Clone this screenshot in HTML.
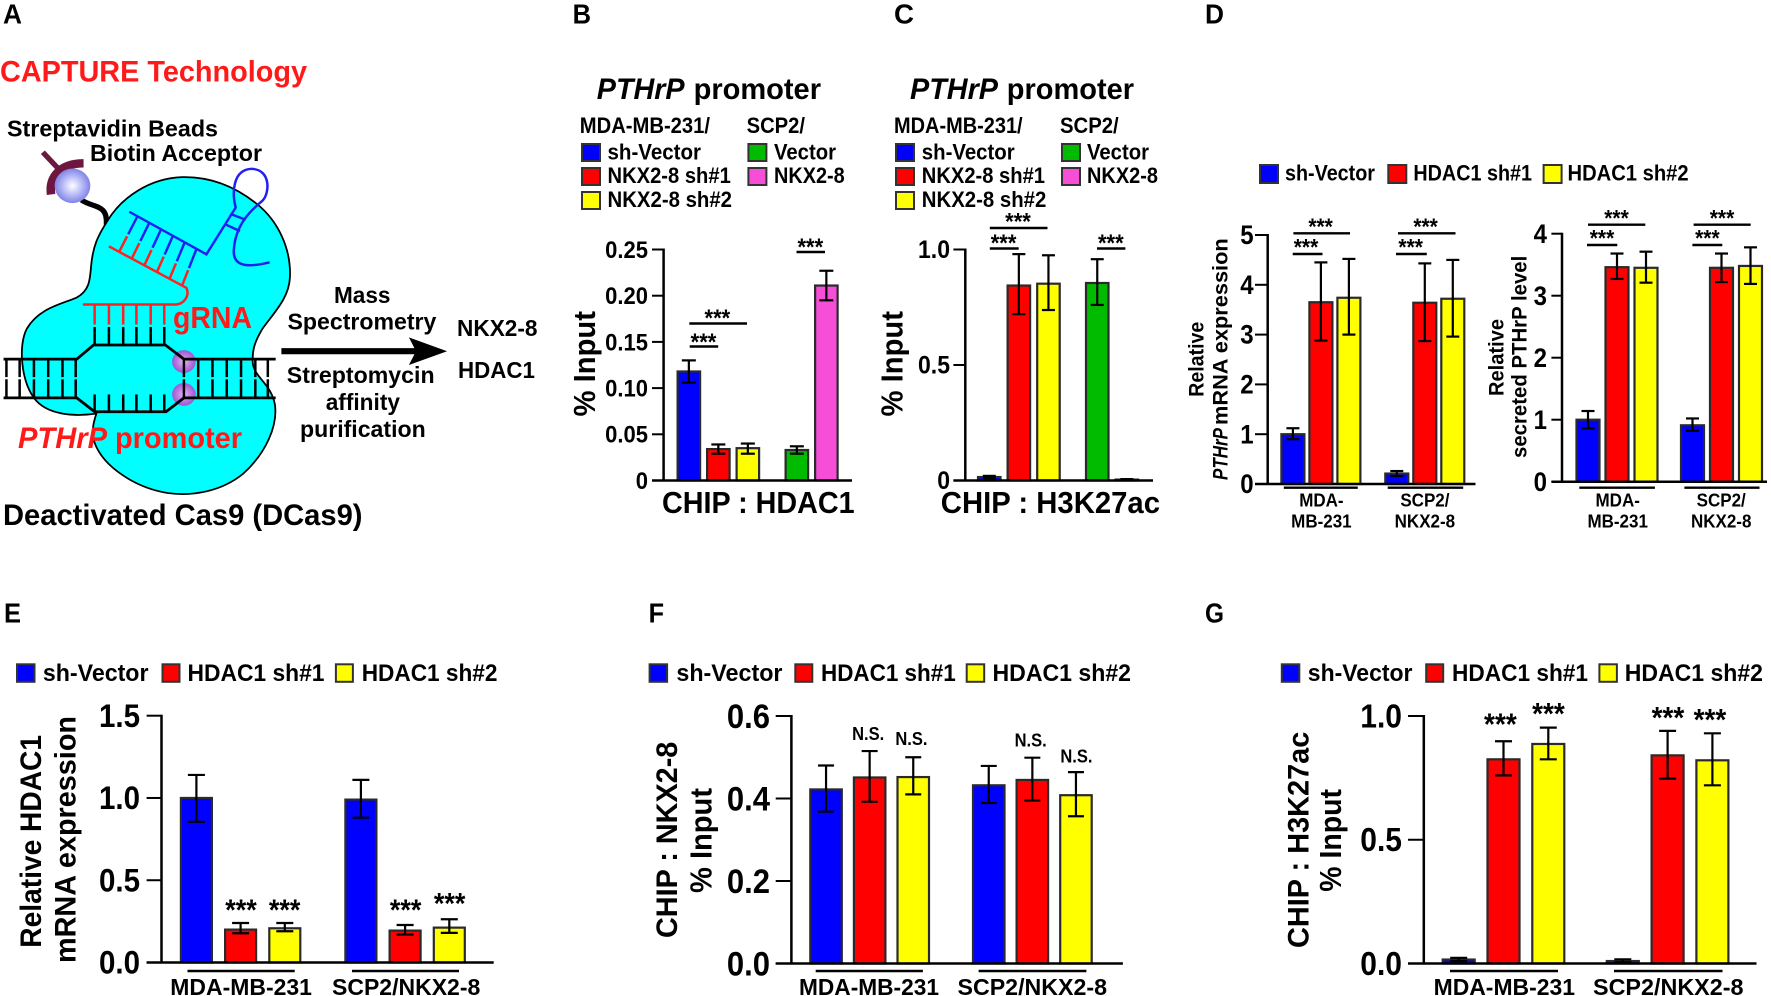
<!DOCTYPE html>
<html lang="en">
<head>
<meta charset="utf-8">
<title>CAPTURE technology and CHIP bar charts</title>
<style>
html,body{margin:0;padding:0;background:#fff;}
svg{display:block;}
text{font-family:"Liberation Sans",Arial,sans-serif;font-weight:700;fill:#000;}
</style>
</head>
<body>
<svg id="fig" xmlns="http://www.w3.org/2000/svg" width="1771" height="996" viewBox="0 0 1771 996">
<defs>
<radialGradient id="beadGrad"><stop offset="0" stop-color="#ffffff"/><stop offset="0.45" stop-color="#c4c6fa"/><stop offset="1" stop-color="#7f84e6"/></radialGradient>
<radialGradient id="ballGrad"><stop offset="0" stop-color="#e0b8f2"/><stop offset="0.6" stop-color="#bc78e0"/><stop offset="1" stop-color="#9a58d0"/></radialGradient>
</defs>
<g id="illustration" transform="scale(0.3571 0.346)" fill="none" stroke-linecap="butt">
<path d="M228,578 C262,602 302,588 298,650" stroke="#000" stroke-width="15"/>
<path fill="#00ffff" stroke="#000" stroke-width="5" d="M300,640 C340,570 420,515 510,512 C590,510 660,540 720,590 C780,640 815,720 812,800 C810,860 770,900 735,950 C715,985 705,1010 708,1050 C712,1090 760,1110 770,1170 C778,1230 745,1310 680,1370 C620,1420 540,1435 470,1425 C380,1410 290,1350 265,1280 C255,1245 262,1220 270,1195 C210,1205 130,1200 95,1150 C60,1100 50,1000 75,950 C110,890 170,880 215,860 C250,840 252,810 255,770 C260,710 275,680 300,640 Z"/>
<line x1="120" y1="440" x2="162" y2="486" stroke="#6b1a3f" stroke-width="15"/>
<path d="M143,562 C136,510 170,472 234,472" stroke="#6e1540" stroke-width="24"/>
<circle cx="203" cy="537" r="50" fill="url(#beadGrad)"/>
<circle cx="515" cy="1045" r="33" fill="url(#ballGrad)"/>
<circle cx="515" cy="1140" r="33" fill="url(#ballGrad)"/>
<g id="rungs"></g>
<path d="M10,1038 H215 L262,997 H463 L515,1038 H772" stroke="#000" stroke-width="8"/>
<path d="M10,1150 H215 L265,1190 H465 L515,1150 H772" stroke="#000" stroke-width="8"/>
<path d="M305,712 L522,832 C532,855 515,880 490,880 H232" stroke="#ff2020" stroke-width="7"/>
<path d="M362,612 L578,735 L660,600 C650,560 650,490 705,488 C760,490 755,560 735,580 C700,610 660,650 655,720 C650,775 700,772 755,758" stroke="#2020f0" stroke-width="7"/>
<line x1="645" y1="618" x2="688" y2="635" stroke="#2020f0" stroke-width="7"/>
<line x1="630" y1="648" x2="672" y2="668" stroke="#2020f0" stroke-width="7"/>
<path d="M788,1015 H1170" stroke="#000" stroke-width="18"/>
<path d="M1252,1015 L1145,975 L1165,1015 L1145,1055 Z" fill="#000"/>
</g>
<g id="labels"></g>
<g id="charts"></g>
</svg>
<script>
// Panel B values
const panelBCategories = ['MDA sh-Vector', 'NKX2-8 sh#1', 'NKX2-8 sh#2', 'SCP2 Vector', 'SCP2 NKX2-8'];
const panelBMeans = [0.118, 0.034, 0.035, 0.033, 0.211];
const panelBErrHigh = [0.130, 0.039, 0.040, 0.037, 0.227];
const panelBErrLow = [0.106, 0.029, 0.029, 0.029, 0.195];
const panelBTicks = [0, 0.05, 0.10, 0.15, 0.20, 0.25];
const panelBTickLabels = ['0', '0.05', '0.10', '0.15', '0.20', '0.25'];
// Panel C values
const panelCCategories = ['MDA sh-Vector', 'NKX2-8 sh#1', 'NKX2-8 sh#2', 'SCP2 Vector', 'SCP2 NKX2-8'];
const panelCMeans = [0.015, 0.844, 0.852, 0.855, 0.004];
const panelCErrHigh = [0.020, 0.980, 0.975, 0.958, 0.006];
const panelCErrLow = [0.010, 0.720, 0.738, 0.760, 0.002];
const panelCTicks = [0, 0.5, 1.0];
const panelCTickLabels = ['0', '0.5', '1.0'];
// Panel D (mRNA) values
const panelD1Categories = ['MDA sh-Vector', 'MDA HDAC1 sh#1', 'MDA HDAC1 sh#2', 'SCP2 sh-Vector', 'SCP2 HDAC1 sh#1', 'SCP2 HDAC1 sh#2'];
const panelD1Means = [1.0, 3.65, 3.74, 0.21, 3.64, 3.72];
const panelD1ErrHigh = [1.12, 4.45, 4.52, 0.26, 4.43, 4.50];
const panelD1ErrLow = [0.90, 2.88, 3.00, 0.16, 2.87, 2.96];
const panelD1Ticks = [0, 1, 2, 3, 4, 5];
const panelD1TickLabels = ['0', '1', '2', '3', '4', '5'];
// Panel D (secreted) values
const panelD2Categories = ['MDA sh-Vector', 'MDA HDAC1 sh#1', 'MDA HDAC1 sh#2', 'SCP2 sh-Vector', 'SCP2 HDAC1 sh#1', 'SCP2 HDAC1 sh#2'];
const panelD2Means = [1.0, 3.46, 3.45, 0.91, 3.45, 3.48];
const panelD2ErrHigh = [1.14, 3.68, 3.71, 1.02, 3.68, 3.78];
const panelD2ErrLow = [0.86, 3.27, 3.21, 0.82, 3.22, 3.19];
const panelD2Ticks = [0, 1, 2, 3, 4];
const panelD2TickLabels = ['0', '1', '2', '3', '4'];
// Panel E values
const panelECategories = ['MDA sh-Vector', 'MDA HDAC1 sh#1', 'MDA HDAC1 sh#2', 'SCP2 sh-Vector', 'SCP2 HDAC1 sh#1', 'SCP2 HDAC1 sh#2'];
const panelEMeans = [1.0, 0.20, 0.208, 0.99, 0.194, 0.212];
const panelEErrHigh = [1.14, 0.24, 0.24, 1.11, 0.228, 0.263];
const panelEErrLow = [0.855, 0.178, 0.19, 0.88, 0.17, 0.18];
const panelETicks = [0, 0.5, 1.0, 1.5];
const panelETickLabels = ['0.0', '0.5', '1.0', '1.5'];
// Panel F values
const panelFCategories = ['MDA sh-Vector', 'MDA HDAC1 sh#1', 'MDA HDAC1 sh#2', 'SCP2 sh-Vector', 'SCP2 HDAC1 sh#1', 'SCP2 HDAC1 sh#2'];
const panelFMeans = [0.422, 0.451, 0.452, 0.432, 0.445, 0.408];
const panelFErrHigh = [0.48, 0.515, 0.50, 0.479, 0.499, 0.464];
const panelFErrLow = [0.368, 0.392, 0.41, 0.389, 0.395, 0.357];
const panelFTicks = [0, 0.2, 0.4, 0.6];
const panelFTickLabels = ['0.0', '0.2', '0.4', '0.6'];
// Panel G values
const panelGCategories = ['MDA sh-Vector', 'MDA HDAC1 sh#1', 'MDA HDAC1 sh#2', 'SCP2 sh-Vector', 'SCP2 HDAC1 sh#1', 'SCP2 HDAC1 sh#2'];
const panelGMeans = [0.016, 0.825, 0.887, 0.010, 0.841, 0.821];
const panelGErrHigh = [0.023, 0.898, 0.953, 0.017, 0.94, 0.93];
const panelGErrLow = [0.010, 0.76, 0.825, 0.005, 0.747, 0.72];
const panelGTicks = [0, 0.5, 1.0];
const panelGTickLabels = ['0.0', '0.5', '1.0'];

const BLUE = '#0000ff', RED = '#ff0000', YELLOW = '#ffff00', GREEN = '#00bb00', MAGENTA = '#f64ed6';
const TALL = 1.1;
const NS = 'http://www.w3.org/2000/svg';
const labelsG = document.getElementById('labels');
const chartsG = document.getElementById('charts');
const rungsG = document.getElementById('rungs');

function mk(tag, parent, name) {
  const el = document.createElementNS(NS, tag);
  
  
  parent.appendChild(el);
  return el;
}
function line(parent, name, x1, y1, x2, y2, w, color) {
  const el = mk('line', parent, name);
  el.setAttribute('x1', x1);
  el.setAttribute('y1', y1);
  el.setAttribute('x2', x2);
  el.setAttribute('y2', y2);
  el.setAttribute('stroke', color || '#000');
  el.setAttribute('stroke-width', w);
  return el;
}
function hText(parent, name, str, x1, x2, base, size, color, italic) {
  const el = mk('text', parent, name);
  el.textContent = str;
  el.setAttribute('x', x1);
  el.setAttribute('y', base);
  el.setAttribute('font-size', size * TALL);
  el.setAttribute('textLength', x2 - x1);
  el.setAttribute('lengthAdjust', 'spacingAndGlyphs');
  if (color) el.style.fill = color;
  if (italic) el.setAttribute('font-style', 'italic');
  return el;
}
function cText(parent, name, str, cx, base, size, anchor) {
  const el = mk('text', parent, name);
  el.textContent = str;
  el.setAttribute('x', cx);
  el.setAttribute('y', base);
  el.setAttribute('font-size', size);
  el.setAttribute('text-anchor', anchor || 'middle');
  const natural = el.getComputedTextLength();
  el.setAttribute('font-size', size * TALL);
  el.setAttribute('textLength', natural);
  el.setAttribute('lengthAdjust', 'spacingAndGlyphs');
  return el;
}
function vText(parent, name, str, bx, yBottom, yTop, size, italic) {
  const el = mk('text', parent, name);
  el.textContent = str;
  el.setAttribute('transform', 'translate(' + bx + ' ' + yBottom + ') rotate(-90)');
  el.setAttribute('font-size', size * 1.05);
  el.setAttribute('textLength', yBottom - yTop);
  el.setAttribute('lengthAdjust', 'spacingAndGlyphs');
  if (italic) el.setAttribute('font-style', 'italic');
  return el;
}
function legendEntry(parent, name, color, sx, sy, sw, sh, str, t1, t2, base, size) {
  const g = mk('g', parent, name);
  const r = mk('rect', g, name + '-swatch');
  r.setAttribute('x', sx + 1);
  r.setAttribute('y', sy + 1);
  r.setAttribute('width', sw - 2);
  r.setAttribute('height', sh - 2);
  r.setAttribute('fill', color);
  r.setAttribute('stroke', '#333');
  r.setAttribute('stroke-width', 2);
  hText(g, name + '-label', str, t1, t2, base, size);
}
function sig(parent, name, x1, x2, y, cx, base, size) {
  line(parent, name + '-bracket', x1, y, x2, y, 2.4);
  cText(parent, name + '-stars', '***', cx, base, size);
}
function drawBars(cfg) {
  const g = mk('g', chartsG, cfg.name);
  const yScale = v => cfg.y0 - (v / cfg.yMax) * (cfg.y0 - cfg.yTop);
  const xScale = i => i < 3 ? cfg.barX + i * cfg.step : cfg.groupX + (i - 3) * cfg.step;
  cfg.means.forEach((v, i) => {
    const x = xScale(i);
    const bar = mk('rect', g, 'bar-' + cfg.cats[i].toLowerCase().replace(/[^a-z0-9]+/g, '-'));
    bar.setAttribute('x', x + 1);
    bar.setAttribute('y', yScale(v));
    bar.setAttribute('width', cfg.barW - 2);
    bar.setAttribute('height', Math.max(0, cfg.y0 - yScale(v)));
    bar.setAttribute('fill', cfg.colors[i]);
    bar.setAttribute('stroke', '#2a2a2a');
    bar.setAttribute('stroke-width', 2.2);
    const c = x + cfg.barW / 2;
    const hi = yScale(cfg.high[i]), lo = yScale(cfg.low[i]);
    line(g, 'error-stem', c, hi, c, lo, 2.2);
    line(g, 'error-cap-top', c - cfg.cap, hi, c + cfg.cap, hi, 2.2);
    line(g, 'error-cap-bottom', c - cfg.cap, lo, c + cfg.cap, lo, 2.2);
  });
  line(g, 'y-axis', cfg.axisX, cfg.yTop - 1, cfg.axisX, cfg.y0, 2.5);
  line(g, 'x-axis', cfg.tickLeft, cfg.y0, cfg.axisEnd, cfg.y0, 2.5);
  cfg.ticks.forEach((t, i) => {
    const y = yScale(t);
    line(g, 'y-tick', cfg.tickLeft, y, cfg.axisX, y, 2);
    cText(g, 'y-tick-label', cfg.tickLabels[i], cfg.labelEnd, y + cfg.tickSize * 0.38, cfg.tickSize, 'end');
  });
}

// ---- panel letters ----
hText(labelsG, 'panel-letter-a', 'A', 3, 22, 23.5, 25);
hText(labelsG, 'panel-letter-b', 'B', 572.6, 591, 23.5, 25);
hText(labelsG, 'panel-letter-c', 'C', 894, 914, 23.5, 25);
hText(labelsG, 'panel-letter-d', 'D', 1205, 1224, 23.5, 25);
hText(labelsG, 'panel-letter-e', 'E', 4, 21, 622.7, 25);
hText(labelsG, 'panel-letter-f', 'F', 648.6, 664, 622.7, 25);
hText(labelsG, 'panel-letter-g', 'G', 1205, 1224, 622.7, 25);

// ---- panel A illustration rungs ----
[18, 55, 95, 135, 175, 212, 515, 555, 595, 635, 675, 715, 750].forEach(x => {
  const rung = line(rungsG, 'dna-rung', x, 1038, x, 1150, 7, '#000');
  rung.setAttribute('stroke-dasharray', '52 6 60');
});
[265, 305, 345, 382, 422, 460].forEach(x => {
  line(rungsG, 'target-strand-rung', x, 945, x, 997, 7, '#000');
  line(rungsG, 'nontarget-strand-rung', x, 1140, x, 1190, 7, '#000');
  line(rungsG, 'grna-rung', x, 882, x, 938, 7, '#ff2020');
});
for (let i = 0; i < 6; i++) {
  const bx = 385 + i * 33, by = 625 + i * 19, rx = 335 + i * 35, ry = 725 + i * 20;
  line(rungsG, 'blue-rung', bx, by, bx + (rx - bx) * 0.52, by + (ry - by) * 0.52, 7, '#2020f0');
  line(rungsG, 'red-rung', bx + (rx - bx) * 0.58, by + (ry - by) * 0.58, rx, ry, 7, '#ff2020');
}

// ---- panel A text ----
hText(labelsG, 'capture-title', 'CAPTURE Technology', 0, 307, 81.3, 27, '#ff1a1a');
hText(labelsG, 'streptavidin-label', 'Streptavidin Beads', 7, 218, 136.5, 21);
hText(labelsG, 'biotin-label', 'Biotin Acceptor', 90, 262, 161, 21);
hText(labelsG, 'grna-label', 'gRNA', 173, 252, 328, 28, '#ff1a1a');
hText(labelsG, 'pthrp-label', 'PTHrP', 18, 107, 448, 27, '#ff1a1a', true);
hText(labelsG, 'promoter-label', 'promoter', 115, 242, 448, 27, '#ff1a1a');
hText(labelsG, 'dcas9-label', 'Deactivated Cas9 (DCas9)', 3, 362.5, 525, 27);
hText(labelsG, 'mass-label', 'Mass', 334, 390.5, 303, 21);
hText(labelsG, 'spectrometry-label', 'Spectrometry', 287.5, 436.4, 329.5, 21);
hText(labelsG, 'streptomycin-label', 'Streptomycin', 286.8, 434.6, 383, 21);
hText(labelsG, 'affinity-label', 'affinity', 325.7, 400, 410, 21);
hText(labelsG, 'purification-label', 'purification', 300, 425.7, 437, 21);
hText(labelsG, 'nkx2-8-result', 'NKX2-8', 457, 537.5, 336, 21);
hText(labelsG, 'hdac1-result', 'HDAC1', 458, 535, 378, 21);

// ---- panel B ----
hText(labelsG, 'b-title-pthrp', 'PTHrP', 596.8, 684.6, 99, 27, null, true);
hText(labelsG, 'b-title-promoter', 'promoter', 693.6, 821, 99, 27);
hText(labelsG, 'b-legend-head-mda', 'MDA-MB-231/', 579.8, 710, 133, 20);
hText(labelsG, 'b-legend-head-scp2', 'SCP2/', 746.6, 805, 133, 20);
legendEntry(labelsG, 'b-legend-sh-vector', BLUE, 581, 143, 20, 19, 'sh-Vector', 607.5, 701, 159.5, 20);
legendEntry(labelsG, 'b-legend-nkx-sh1', RED, 581, 167, 20, 19, 'NKX2-8 sh#1', 607.5, 730.8, 183.2, 20);
legendEntry(labelsG, 'b-legend-nkx-sh2', YELLOW, 581, 191, 20, 19, 'NKX2-8 sh#2', 607.5, 732, 207, 20);
legendEntry(labelsG, 'b-legend-vector', GREEN, 747.4, 143, 20, 19, 'Vector', 774, 836, 159.5, 20);
legendEntry(labelsG, 'b-legend-nkx', MAGENTA, 747.4, 167, 20, 19, 'NKX2-8', 774, 844.7, 183.2, 20);
drawBars({name:'panel-b-chart', cats:panelBCategories, means:panelBMeans, high:panelBErrHigh, low:panelBErrLow, ticks:panelBTicks, tickLabels:panelBTickLabels, yMax:0.25, y0:480.5, yTop:249.5, axisX:663.6, tickLeft:652, axisEnd:852, labelEnd:648, tickSize:22, barX:676.6, barW:24.5, step:29.5, groupX:784.6, cap:7, colors:[BLUE,RED,YELLOW,GREEN,MAGENTA]});
vText(labelsG, 'b-y-axis-title', '% Input', 595, 416.5, 311, 29);
hText(labelsG, 'b-x-axis-title', 'CHIP : HDAC1', 662, 854.6, 513.2, 28);
sig(labelsG, 'b-sig-1', 689.7, 718.2, 346.5, 703.5, 350, 22);
sig(labelsG, 'b-sig-2', 689.3, 747, 323.5, 717.4, 326, 22);
sig(labelsG, 'b-sig-3', 796.5, 825, 252, 810.3, 255, 22);

// ---- panel C ----
hText(labelsG, 'c-title-pthrp', 'PTHrP', 910, 998, 99, 27, null, true);
hText(labelsG, 'c-title-promoter', 'promoter', 1006.8, 1134, 99, 27);
hText(labelsG, 'c-legend-head-mda', 'MDA-MB-231/', 894, 1022.6, 133, 20);
hText(labelsG, 'c-legend-head-scp2', 'SCP2/', 1060, 1118.7, 133, 20);
legendEntry(labelsG, 'c-legend-sh-vector', BLUE, 895, 143, 20, 19, 'sh-Vector', 921.8, 1014.7, 159.5, 20);
legendEntry(labelsG, 'c-legend-nkx-sh1', RED, 895, 167, 20, 19, 'NKX2-8 sh#1', 921.8, 1045, 183.2, 20);
legendEntry(labelsG, 'c-legend-nkx-sh2', YELLOW, 895, 191, 20, 19, 'NKX2-8 sh#2', 921.8, 1046.3, 207, 20);
legendEntry(labelsG, 'c-legend-vector', GREEN, 1061, 143, 20, 19, 'Vector', 1087, 1149, 159.5, 20);
legendEntry(labelsG, 'c-legend-nkx', MAGENTA, 1061, 167, 20, 19, 'NKX2-8', 1087, 1158, 183.2, 20);
drawBars({name:'panel-c-chart', cats:panelCCategories, means:panelCMeans, high:panelCErrHigh, low:panelCErrLow, ticks:panelCTicks, tickLabels:panelCTickLabels, yMax:1, y0:480.5, yTop:249.5, axisX:965.3, tickLeft:953.4, axisEnd:1153, labelEnd:950, tickSize:23, barX:977, barW:24.5, step:29.6, groupX:1085, cap:6.5, colors:[BLUE,RED,YELLOW,GREEN,MAGENTA]});
vText(labelsG, 'c-y-axis-title', '% Input', 902.5, 416.5, 311, 29);
hText(labelsG, 'c-x-axis-title', 'CHIP : H3K27ac', 940.8, 1160, 513.2, 28);
sig(labelsG, 'c-sig-1', 989.8, 1018.7, 248.5, 1003.6, 251, 22);
sig(labelsG, 'c-sig-2', 989.8, 1047.5, 228, 1018, 229.5, 22);
sig(labelsG, 'c-sig-3', 1097, 1125.4, 248.5, 1110.8, 251, 22);

// ---- panel D ----
legendEntry(labelsG, 'd-legend-sh-vector', BLUE, 1259, 164, 20, 20, 'sh-Vector', 1285, 1375, 180.7, 20);
legendEntry(labelsG, 'd-legend-hdac1-sh1', RED, 1387.3, 164, 20, 20, 'HDAC1 sh#1', 1413.4, 1532, 180.7, 20);
legendEntry(labelsG, 'd-legend-hdac1-sh2', YELLOW, 1542.6, 164, 20, 20, 'HDAC1 sh#2', 1567.5, 1688.6, 180.7, 20);
const d6 = [BLUE, RED, YELLOW, BLUE, RED, YELLOW];
drawBars({name:'panel-d-mrna-chart', cats:panelD1Categories, means:panelD1Means, high:panelD1ErrHigh, low:panelD1ErrLow, ticks:panelD1Ticks, tickLabels:panelD1TickLabels, yMax:5, y0:484, yTop:235, axisX:1267.7, tickLeft:1255, axisEnd:1475.5, labelEnd:1253.6, tickSize:24, barX:1280.4, barW:25, step:28, groupX:1384.3, cap:6.5, colors:d6});
vText(labelsG, 'd-mrna-y-title-1', 'Relative', 1203.7, 396.7, 321.7, 20);
vText(labelsG, 'd-mrna-y-title-pthrp', 'PTHrP', 1227.5, 480, 428, 20, true);
vText(labelsG, 'd-mrna-y-title-2', 'mRNA expression', 1227.5, 425, 238.3, 20);
sig(labelsG, 'd-mrna-sig-1', 1292.7, 1322.5, 254, 1306, 255, 21);
sig(labelsG, 'd-mrna-sig-2', 1293.4, 1350, 233.3, 1320.6, 234.5, 21);
sig(labelsG, 'd-mrna-sig-3', 1396, 1426.8, 254, 1410.7, 255, 21);
sig(labelsG, 'd-mrna-sig-4', 1398, 1455.5, 233.3, 1425.6, 234.5, 21);
line(labelsG, 'd-mrna-group-line-mda', 1283.8, 487.7, 1357.8, 487.7, 2.4);
line(labelsG, 'd-mrna-group-line-scp2', 1387.7, 487.7, 1463.2, 487.7, 2.4);
cText(labelsG, 'd-mrna-group-mda-1', 'MDA-', 1321.4, 506.7, 17);
cText(labelsG, 'd-mrna-group-mda-2', 'MB-231', 1321.4, 527.7, 17);
cText(labelsG, 'd-mrna-group-scp2-1', 'SCP2/', 1424.9, 506.7, 17);
cText(labelsG, 'd-mrna-group-scp2-2', 'NKX2-8', 1424.9, 527.7, 17);

drawBars({name:'panel-d-secreted-chart', cats:panelD2Categories, means:panelD2Means, high:panelD2ErrHigh, low:panelD2ErrLow, ticks:panelD2Ticks, tickLabels:panelD2TickLabels, yMax:4, y0:481.7, yTop:233.7, axisX:1562, tickLeft:1551.4, axisEnd:1767, labelEnd:1547, tickSize:24, barX:1575.5, barW:25, step:29, groupX:1680, cap:6.5, colors:d6});
vText(labelsG, 'd-secreted-y-title-1', 'Relative', 1503.5, 396, 319, 20);
vText(labelsG, 'd-secreted-y-title-2', 'secreted PTHrP level', 1526.5, 458, 255.7, 20);
sig(labelsG, 'd-secreted-sig-1', 1587, 1617.3, 245, 1602, 246, 21);
sig(labelsG, 'd-secreted-sig-2', 1588, 1645.3, 224.7, 1616.5, 226, 21);
sig(labelsG, 'd-secreted-sig-3', 1692.4, 1722.3, 245, 1707.4, 246, 21);
sig(labelsG, 'd-secreted-sig-4', 1693.6, 1750.7, 224.7, 1722, 226, 21);
line(labelsG, 'd-secreted-group-line-mda', 1579.3, 487.7, 1654.9, 487.7, 2.4);
line(labelsG, 'd-secreted-group-line-scp2', 1684.4, 487.7, 1759.5, 487.7, 2.4);
cText(labelsG, 'd-secreted-group-mda-1', 'MDA-', 1617.7, 506.7, 17);
cText(labelsG, 'd-secreted-group-mda-2', 'MB-231', 1617.7, 527.7, 17);
cText(labelsG, 'd-secreted-group-scp2-1', 'SCP2/', 1721.2, 506.7, 17);
cText(labelsG, 'd-secreted-group-scp2-2', 'NKX2-8', 1721.2, 527.7, 17);

// ---- panel E ----
legendEntry(labelsG, 'e-legend-sh-vector', BLUE, 16, 663.3, 19.5, 19.5, 'sh-Vector', 42.9, 148.5, 681, 22);
legendEntry(labelsG, 'e-legend-hdac1-sh1', RED, 161.5, 663.3, 19, 19.5, 'HDAC1 sh#1', 187.5, 324.5, 681, 22);
legendEntry(labelsG, 'e-legend-hdac1-sh2', YELLOW, 334.9, 663.3, 19, 19.5, 'HDAC1 sh#2', 361.7, 497.5, 681, 22);
drawBars({name:'panel-e-chart', cats:panelECategories, means:panelEMeans, high:panelEErrHigh, low:panelEErrLow, ticks:panelETicks, tickLabels:panelETickLabels, yMax:1.5, y0:962.5, yTop:715.7, axisX:161.5, tickLeft:146.6, axisEnd:493.7, labelEnd:140, tickSize:29.5, barX:179.9, barW:33, step:44.2, groupX:344.4, cap:8.5, colors:d6});
vText(labelsG, 'e-y-title-1', 'Relative HDAC1', 41, 947.7, 735, 28);
vText(labelsG, 'e-y-title-2', 'mRNA expression', 75.5, 963, 716, 28);
line(labelsG, 'e-group-line-mda', 187.5, 971, 294.7, 971, 2.6);
line(labelsG, 'e-group-line-scp2', 352, 971, 459, 971, 2.6);
hText(labelsG, 'e-group-mda', 'MDA-MB-231', 170.3, 311.9, 995, 21);
hText(labelsG, 'e-group-scp2', 'SCP2/NKX2-8', 332, 480.3, 995, 21);
cText(labelsG, 'e-stars-1', '***', 241, 920, 27);
cText(labelsG, 'e-stars-2', '***', 284.7, 920, 27);
cText(labelsG, 'e-stars-3', '***', 405.7, 920, 27);
cText(labelsG, 'e-stars-4', '***', 449.7, 913.5, 27);

// ---- panel F ----
legendEntry(labelsG, 'f-legend-sh-vector', BLUE, 648.6, 663.3, 19.5, 19.5, 'sh-Vector', 676.4, 782.5, 681, 22);
legendEntry(labelsG, 'f-legend-hdac1-sh1', RED, 794.3, 663.3, 19, 19.5, 'HDAC1 sh#1', 821, 955.7, 681, 22);
legendEntry(labelsG, 'f-legend-hdac1-sh2', YELLOW, 965.7, 663.3, 19.5, 19.5, 'HDAC1 sh#2', 992.5, 1131, 681, 22);
drawBars({name:'panel-f-chart', cats:panelFCategories, means:panelFMeans, high:panelFErrHigh, low:panelFErrLow, ticks:panelFTicks, tickLabels:panelFTickLabels, yMax:0.6, y0:963.5, yTop:716, axisX:791.4, tickLeft:775.7, axisEnd:1122.9, labelEnd:770, tickSize:31, barX:809.3, barW:33.5, step:43.6, groupX:972, cap:8, colors:d6});
vText(labelsG, 'f-y-title-1', 'CHIP : NKX2-8', 677, 938, 741.7, 28);
vText(labelsG, 'f-y-title-2', '% Input', 711.4, 893, 788, 29);
line(labelsG, 'f-group-line-mda', 815.7, 971, 922.9, 971, 2.6);
line(labelsG, 'f-group-line-scp2', 978.6, 971, 1086.4, 971, 2.6);
hText(labelsG, 'f-group-mda', 'MDA-MB-231', 799, 939, 995, 21);
hText(labelsG, 'f-group-scp2', 'SCP2/NKX2-8', 957.5, 1107, 995, 21);
cText(labelsG, 'f-ns-1', 'N.S.', 868.2, 740, 16.5);
cText(labelsG, 'f-ns-2', 'N.S.', 911.4, 745, 16.5);
cText(labelsG, 'f-ns-3', 'N.S.', 1030.7, 746.7, 16.5);
cText(labelsG, 'f-ns-4', 'N.S.', 1076.4, 762.3, 16.5);

// ---- panel G ----
legendEntry(labelsG, 'g-legend-sh-vector', BLUE, 1280.8, 663.3, 19.5, 19.5, 'sh-Vector', 1307.8, 1412.5, 681, 22);
legendEntry(labelsG, 'g-legend-hdac1-sh1', RED, 1425.2, 663.3, 19, 19.5, 'HDAC1 sh#1', 1452, 1588, 681, 22);
legendEntry(labelsG, 'g-legend-hdac1-sh2', YELLOW, 1598.4, 663.3, 19.5, 19.5, 'HDAC1 sh#2', 1624.8, 1763, 681, 22);
drawBars({name:'panel-g-chart', cats:panelGCategories, means:panelGMeans, high:panelGErrHigh, low:panelGErrLow, ticks:panelGTicks, tickLabels:panelGTickLabels, yMax:1, y0:963.5, yTop:716, axisX:1423.8, tickLeft:1408, axisEnd:1756.5, labelEnd:1402, tickSize:30, barX:1441.7, barW:34, step:44.8, groupX:1605.8, cap:8.5, colors:d6});
vText(labelsG, 'g-y-title-1', 'CHIP : H3K27ac', 1308.5, 948, 731.7, 28);
vText(labelsG, 'g-y-title-2', '% Input', 1341, 891.7, 789, 29);
line(labelsG, 'g-group-line-mda', 1450, 971, 1558, 971, 2.6);
line(labelsG, 'g-group-line-scp2', 1614, 971, 1722.5, 971, 2.6);
hText(labelsG, 'g-group-mda', 'MDA-MB-231', 1433.6, 1575, 995, 21);
hText(labelsG, 'g-group-scp2', 'SCP2/NKX2-8', 1593, 1743.5, 995, 21);
cText(labelsG, 'g-stars-1', '***', 1500.4, 734.5, 28);
cText(labelsG, 'g-stars-2', '***', 1548.5, 724, 28);
cText(labelsG, 'g-stars-3', '***', 1668, 728, 28);
cText(labelsG, 'g-stars-4', '***', 1710, 730, 28);
</script>
</body>
</html>
